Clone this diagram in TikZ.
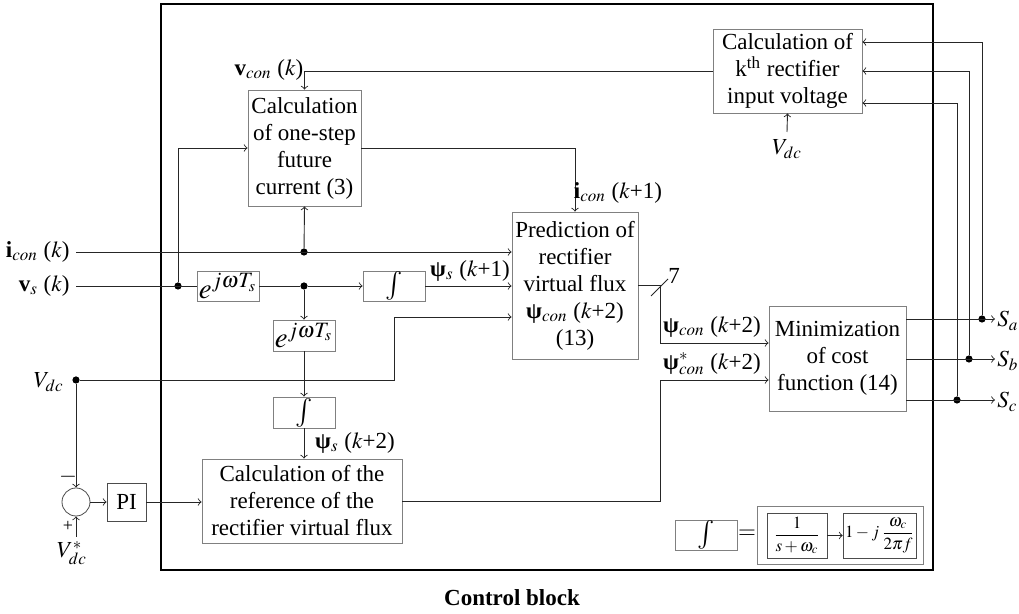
\documentclass[tikz,border=0pt]{standalone}
\usepackage{amsmath}
\usepackage{mathptmx}
\usepackage{fontspec}
\setmainfont{Liberation Serif}
\newfontfamily\tnr{Liberation Serif}
\newcommand{\blkfont}{\tnr\fontsize{11.5}{13.5}\selectfont}
\newcommand{\bpsi}{{\bfseries ψ}}
\tikzset{
  blk/.style={draw=black!50, fill=white, align=center, inner sep=0pt, font=\blkfont},
  lbl/.style={inner sep=0pt, font=\blkfont},
  dot/.style={circle, fill=black, inner sep=0pt, minimum size=3.6pt},
  sig/.style={->, black!85, line width=0.45pt},
  wire/.style={black!85, line width=0.45pt},
}
\begin{document}
\begin{tikzpicture}[x=0.5pt,y=-0.5pt]
\useasboundingbox (0,0) rectangle (1019,614);
\draw[line width=1.1pt] (161,4) rectangle (933,570); %Control block
\node[font=\blkfont\bfseries] (title) at (512,598) {Control block};

%Blocks
\node[blk, minimum width=74.5pt, minimum height=42pt] (kvolt) at (787.5,71) {Calculation of\\ k\textsuperscript{th} rectifier\\ input voltage};
\node[blk, minimum width=56.5pt, minimum height=58pt] (fut) at (304.5,148) {Calculation\\ of one-step\\ future\\ current (3)};
\node[blk, minimum width=63pt, minimum height=73.5pt] (pred) at (575,285.5) {Prediction of\\ rectifier\\ virtual flux\\ \bpsi$_{con}$ ($k$+2)\\ (13)};
\node[blk, minimum width=68.5pt, minimum height=52.5pt] (mincost) at (837.5,358.5) {Minimization\\ of cost\\ function (14)};
\node[blk, minimum width=100pt, minimum height=42pt] (ref) at (302,501) {Calculation of the\\ reference of the\\ rectifier virtual flux};
\node[blk, minimum width=31pt, minimum height=15pt] (expA) at (228,286) {\Large$e^{j\omega T_s}$};
\node[blk, minimum width=31pt, minimum height=15.5pt] (expB) at (304,335.5) {\Large$e^{j\omega T_s}$};
\node[blk, minimum width=31pt, minimum height=15pt] (intA) at (394,286) {\Large$\int$};
\node[blk, minimum width=31pt, minimum height=15.5pt] (intB) at (304,412.5) {\Large$\int$};
\node[blk, draw=black!70, minimum width=19.5pt, minimum height=19pt] (pi) at (126.5,502) {PI};
\node[draw=black!70, circle, minimum size=14pt, inner sep=0pt] (sum) at (76,502) {};

%Eingaenge
\coordinate (icon) at (76,252);
\coordinate (vs) at (76,286);
\node[dot] (vdc) at (76,380) {};
\coordinate (vref) at (76,537);
\coordinate (vdck) at (787,132);
\node[dot] (d1) at (178,286) {};
\node[dot] (d2) at (304,286) {};
\node[dot] (d3) at (304,252) {};
\coordinate (vdcup) at (394,317);
\coordinate (sp1) at (660,343);
\coordinate (sp2) at (660,380);

\node[lbl, anchor=east] (liconk) at (70,252) {\textbf{i}$_{con}$ ($k$)};
\node[lbl, anchor=east] (lvsk) at (70,286) {\textbf{v}$_s$ ($k$)};
\node[lbl, anchor=east] (lvdc) at (64,382) {$V_{dc}$};
\node[lbl] (lminus) at (68,477) {$-$};
\node[lbl, font=\small] (lplus) at (68,526) {+};
\node[lbl] (lvref) at (72,553) {$V^*_{dc}$};
\node[lbl] (lvdck) at (787,149) {$V_{dc}$};

%Signale
\draw[sig] (icon) -- (pred.west |- icon);
\draw[sig] (d3) -- (fut.south);
\draw[wire] (vs) -- (expA.west);
\draw[wire] (expA.east) -- (d2);
\draw[sig] (d2) -- (intA.west);
\draw[sig] (intA.east) -- (pred.west |- intA);
\draw[sig] (d1) |- (fut.west);
\draw[sig] (d2) -- (expB.north);
\draw[sig] (expB.south) -- (intB.north);
\draw[sig] (intB.south) -- (ref.north -| intB);
\draw[sig] (vdc) -| (vdcup) -- (pred.west |- vdcup);
\draw[sig] (vdc) -- (sum.north);
\draw[sig] (vref) -- (sum.south);
\draw[sig] (sum.east) -- (pi.west);
\draw[sig] (pi.east) -- (ref.west |- pi);
\draw[sig] (fut.east) -| (pred.north);
\draw[sig] (kvolt.west) -| (fut.north);
\draw[sig] (vdck) -- (kvolt.south);
\draw[sig] (pred.east) -| (sp1) -- (mincost.west |- sp1);
\draw[sig] (ref.east) -| (sp2) -- (mincost.west |- sp2);
\draw[wire] (651,296) -- (668,279);
\node[lbl] (lseven) at (674,276) {7};

\node[lbl] (lvcon) at (269,70) {\textbf{v}$_{con}$ ($k$)};
\node[lbl] (licon1) at (618,193) {\textbf{i}$_{con}$ ($k$+1)};
\node[lbl] (lpsi1) at (470,271) {\bpsi$_s$ ($k$+1)};
\node[lbl] (lpsi2) at (355,443) {\bpsi$_s$ ($k$+2)};
\node[lbl] (lpsicon) at (712,327) {\bpsi$_{con}$ ($k$+2)};
\node[lbl] (lpsiref) at (712,364) {\bpsi$^*_{con}$ ($k$+2)};

%Schaltsignale
\foreach \n/\y/\xd/\yk in {a/319/982/42, b/359/969/71, c/400/957/103}{
  \coordinate (s\n) at (995,\y);
  \node[dot] (ds\n) at (\xd,\y) {};
  \draw[sig] (mincost.east |- s\n) -- (s\n);
  \draw[sig] (ds\n) |- (kvolt.east |- 0,\yk);
  \node[lbl, anchor=west] (ls\n) at (997,\y+2) {$S_\n$};
}

%Legende
\node[blk, minimum width=31pt, minimum height=15pt] (intL) at (706,535) {\Large$\int$};
\node[lbl] (leq) at (747,534) {$=$};
\draw[black!50] (757,506) rectangle (923,564);
\node[blk, draw=black!70, inner sep=1pt, minimum width=30pt, minimum height=22.5pt, font=\fontsize{8.5}{10}\selectfont] (lp1) at (797,535.5) {$\dfrac{1}{s+\omega_c}$};
\node[blk, draw=black!70, inner sep=1pt, minimum width=36pt, minimum height=22.5pt, font=\fontsize{8.5}{10}\selectfont] (lp2) at (880,535.5) {$1-j\,\dfrac{\omega_c}{2\pi f}$};
\draw[sig] (lp1.east) -- (lp2.west);
\end{tikzpicture}
\end{document}
